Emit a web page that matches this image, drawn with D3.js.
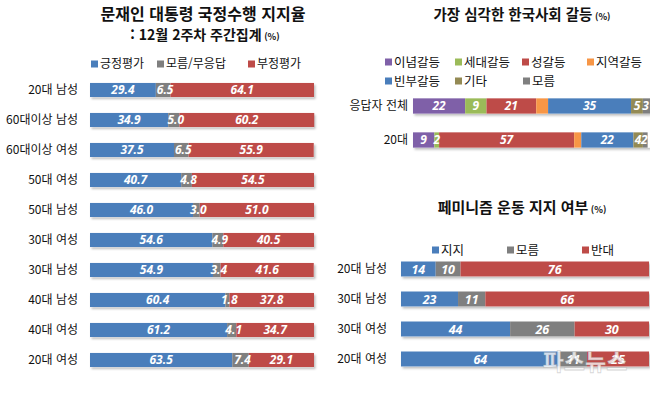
<!DOCTYPE html>
<html lang="ko">
  <head>
    <meta charset="UTF-8" />
    <title>여론조사</title>
    <script src="https://d3js.org/d3.v7.min.js"></script>
    <style>
      body { margin: 0; background: #fff; }
      text { font-family: "Noto Sans CJK KR", "Noto Sans", sans-serif; }
      .val { font-family: "Open Sans", "Noto Sans", sans-serif; font-weight: 700; font-style: italic; fill: #fff; }
    </style>
  </head>
  <body>
    <script>
      // 문재인 대통령 국정수행 지지율
      var approvalRows = ["20대 남성", "60대이상 남성", "60대이상 여성", "50대 여성", "50대 남성",
        "30대 여성", "30대 남성", "40대 남성", "40대 여성", "20대 여성"];
      var approvalPos = [29.4, 34.9, 37.5, 40.7, 46.0, 54.6, 54.9, 60.4, 61.2, 63.5];
      var approvalDk = [6.5, 5.0, 6.5, 4.8, 3.0, 4.9, 3.4, 1.8, 4.1, 7.4];
      var approvalNeg = [64.1, 60.2, 55.9, 54.5, 51.0, 40.5, 41.6, 37.8, 34.7, 29.1];
      var approvalKeys = ["긍정평가", "모름/무응답", "부정평가"];

      // 가장 심각한 한국사회 갈등
      var conflictRows = ["응답자 전체", "20대"];
      var conflictKeys = ["이념갈등", "세대갈등", "성갈등", "지역갈등", "빈부갈등", "기타", "모름"];
      var conflictIdeology = [22, 9];
      var conflictGeneration = [9, 2];
      var conflictGender = [21, 57];
      var conflictRegion = [5, 3];
      var conflictWealth = [35, 22];
      var conflictOther = [5, 4];
      var conflictDk = [3, 2];

      // 페미니즘 운동 지지 여부
      var femRows = ["20대 남성", "30대 남성", "30대 여성", "20대 여성"];
      var femYes = [14, 23, 44, 64];
      var femDk = [10, 11, 26, 11];
      var femNo = [76, 66, 30, 25];
      var femKeys = ["지지", "모름", "반대"];

      var blue = "#4a7ebb", gray = "#7f7f7f", red = "#be4b48";
      var conflictColors = ["#7f60a8", "#9bbb59", "#be4b48", "#f79646", "#4a7ebb", "#948a54", "#7f7f7f"];

      var svg = d3.select("body").append("svg")
        .attr("width", 650).attr("height", 393);

      var defs = svg.append("defs");
      defs.append("filter").attr("id", "shadow")
        .attr("x", "-5%").attr("y", "-30%").attr("width", "110%").attr("height", "180%")
        .append("feDropShadow")
        .attr("dx", 1.5).attr("dy", 2).attr("stdDeviation", 1.2)
        .attr("flood-color", "#000").attr("flood-opacity", 0.25);

      function makeRows(rows, keys, series) {
        return rows.map(function (r, i) {
          var o = { row: r };
          keys.forEach(function (k, j) { o[k] = series[j][i]; });
          return o;
        });
      }

      function drawStack(opt) {
        var g = svg.append("g");
        var stack = d3.stack().keys(opt.keys)(opt.data);
        var x = d3.scaleLinear().domain([0, 100]).range(opt.xRange);
        var y = d3.scaleBand().domain(opt.rows).range(opt.yRange)
          .paddingInner(opt.pad).paddingOuter(opt.pad / 2);

        // white bar under the segments, carries the drop shadow
        g.selectAll(".shadow").data(opt.data).enter().append("rect")
          .attr("x", x(0))
          .attr("y", function (d) { return y(d.row); })
          .attr("width", Math.min(x(100), 650) - x(0))
          .attr("height", y.bandwidth())
          .attr("fill", "#fff")
          .attr("filter", "url(#shadow)");

        var layer = g.selectAll(".layer").data(stack).enter().append("g")
          .attr("fill", function (d, i) { return opt.colors[i]; });

        layer.selectAll("rect").data(function (d) { return d; }).enter().append("rect")
          .attr("x", function (d) { return x(d[0]); })
          .attr("y", function (d) { return y(d.data.row); })
          .attr("width", function (d) { return x(d[1]) - x(d[0]); })
          .attr("height", y.bandwidth());

        // labels after all segments so the next segment does not hide them
        var labels = g.append("g");
        stack.forEach(function (s) {
          if (opt.hideLabel && opt.hideLabel.indexOf(s.key) >= 0) return;
          labels.selectAll(null).data(s).enter().append("text")
            .attr("class", "val")
            .attr("x", function (d) { return (x(d[0]) + x(d[1])) / 2 + (opt.shift ? opt.shift(s.key) : 0); })
            .attr("y", function (d) { return y(d.data.row) + y.bandwidth() / 2; })
            .attr("dy", "0.36em")
            .attr("text-anchor", "middle")
            .style("font-size", opt.valSize + "px")
            .text(function (d) { return opt.fmt(d.data[s.key]); });
        });

        g.selectAll(".rowlab").data(opt.rows).enter().append("text")
          .attr("x", opt.labelX)
          .attr("y", function (d) { return y(d) + y.bandwidth() / 2; })
          .attr("dy", "0.36em")
          .attr("text-anchor", "end")
          .style("font-size", opt.labelSize + "px")
          .attr("fill", "#111")
          .text(function (d) { return d; });
      }

      function legend(items, colors, xs, ys, size) {
        var g = svg.append("g");
        items.forEach(function (k, i) {
          g.append("rect").attr("x", xs[i]).attr("y", ys[i] - 3.5)
            .attr("width", 7).attr("height", 7).attr("fill", colors[i]);
          g.append("text").attr("x", xs[i] + 9).attr("y", ys[i])
            .attr("dy", "0.36em").style("font-size", size + "px").attr("fill", "#111")
            .text(k);
        });
      }

      function title(x, y, main, size, unitSize) {
        var t = svg.append("text").attr("x", x).attr("y", y)
          .attr("text-anchor", "middle").attr("dy", "0.36em")
          .style("font-weight", "700").style("font-size", size + "px").attr("fill", "#111");
        t.append("tspan").text(main);
        t.append("tspan").style("font-size", unitSize + "px").text(" (%)");
      }

      // left chart
      svg.append("text").attr("x", 203).attr("y", 14).attr("dy", "0.36em")
        .attr("text-anchor", "middle").style("font-weight", "700").style("font-size", "16px")
        .attr("fill", "#111").text("문재인 대통령 국정수행 지지율");
      title(205, 35, ": 12월 2주차 주간집계", 14, 9);
      legend(approvalKeys, [blue, gray, red], [91, 157, 248], [64, 64, 64], 12);
      drawStack({
        rows: approvalRows, keys: approvalKeys,
        data: makeRows(approvalRows, approvalKeys, [approvalPos, approvalDk, approvalNeg]),
        colors: [blue, gray, red], xRange: [90, 314], yRange: [75, 375], pad: 0.53,
        labelX: 78, labelSize: 12, valSize: 12,
        shift: function (k) { return k === "모름/무응답" ? 2 : 0; },
        fmt: function (v) { return v.toFixed(1); }
      });

      // right top chart
      title(522, 15, "가장 심각한 한국사회 갈등", 14.5, 9);
      legend(conflictKeys, conflictColors,
        [385, 455, 522, 587, 385, 455, 523], [62, 62, 62, 62, 81, 81, 81], 12.5);
      drawStack({
        rows: conflictRows, keys: conflictKeys,
        data: makeRows(conflictRows, conflictKeys, [conflictIdeology, conflictGeneration,
          conflictGender, conflictRegion, conflictWealth, conflictOther, conflictDk]),
        colors: conflictColors,
        xRange: [413, 650], yRange: [89, 157], pad: 0.55, hideLabel: ["지역갈등"],
        labelX: 408, labelSize: 12, valSize: 12,
        shift: function (k) { return k === "모름" ? -1 : 0; },
        fmt: function (v) { return v; }
      });

      // right bottom chart
      title(522, 208, "페미니즘 운동 지지 여부", 15, 9);
      legend(femKeys, [blue, gray, red], [432, 507, 582], [250, 250, 250], 12.5);
      drawStack({
        rows: femRows, keys: femKeys,
        data: makeRows(femRows, femKeys, [femYes, femDk, femNo]),
        colors: [blue, gray, red], xRange: [401, 649], yRange: [254, 374], pad: 0.5,
        labelX: 387, labelSize: 12, valSize: 12.5,
        fmt: function (v) { return v; }
      });

      // watermark
      svg.append("text").attr("x", 585).attr("y", 362).attr("dy", "0.36em")
        .attr("text-anchor", "middle").style("font-weight", "700").style("font-size", "23px")
        .attr("fill", "#fff").attr("fill-opacity", 0.75)
        .attr("stroke", "#999").attr("stroke-opacity", 0.4).attr("stroke-width", 0.8)
        .text("파스뉴스");
    </script>
  </body>
</html>
